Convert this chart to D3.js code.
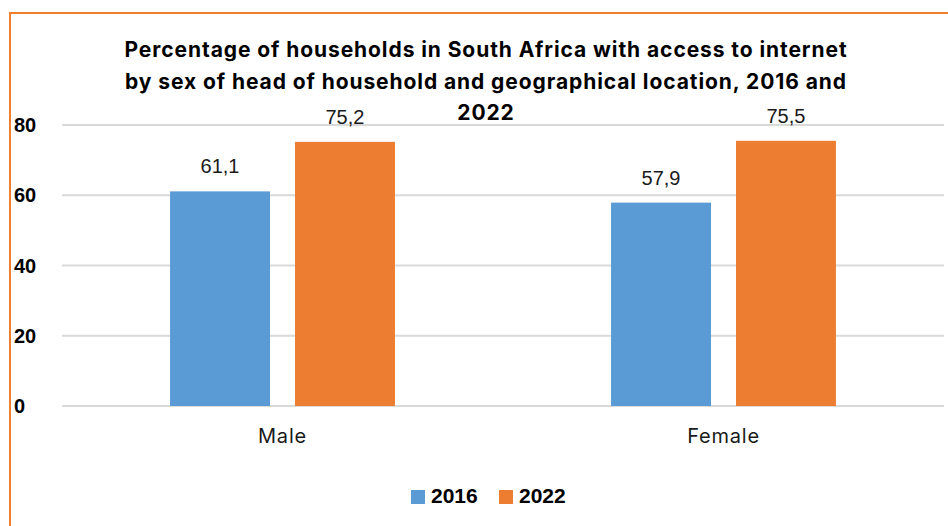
<!DOCTYPE html>
<html>
<head>
<meta charset="utf-8">
<script src="https://cdn.jsdelivr.net/npm/d3@7"></script>
<style>
  html, body { margin: 0; padding: 0; background: #fff; }
  svg { display: block; }
</style>
</head>
<body>
<svg id="chart" width="948" height="526"></svg>
<script>
// Data
const categories = ["Male", "Female"];
const seriesNames = ["2016", "2022"];
const values2016 = [61.1, 57.9];
const values2022 = [75.2, 75.5];
const valueLabels2016 = ["61,1", "57,9"];
const valueLabels2022 = ["75,2", "75,5"];
const yTicks = [0, 20, 40, 60, 80];
const titleLines = [
  "Percentage of households in South Africa with access to internet",
  "by sex of head of household and geographical location, 2016 and",
  "2022"
];
const colors = ["#5B9BD5", "#ED7D31"];

const series = [
  { name: seriesNames[0], values: values2016, labels: valueLabels2016, color: colors[0] },
  { name: seriesNames[1], values: values2022, labels: valueLabels2022, color: colors[1] }
];

const svg = d3.select("#chart");
const W = 948, H = 526;

// Chart frame (only top and left edges fall inside the view)
svg.append("path")
  .attr("d", `M10,${H} L10,13 L${W},13`)
  .attr("fill", "none")
  .attr("stroke", "#F07F2F")
  .attr("stroke-width", 2);

const plot = { left: 62, right: 944, top: 125, bottom: 406 };

const y = d3.scaleLinear().domain([0, 80]).range([plot.bottom, plot.top]);
const x0 = d3.scaleBand().domain(categories).range([plot.left, plot.right])
  .paddingInner(0.49).paddingOuter(0.245);
const x1 = d3.scaleBand().domain(seriesNames).range([0, x0.bandwidth()])
  .paddingInner(0.2).paddingOuter(0);

// Gridlines
svg.append("g")
  .selectAll("line")
  .data(yTicks)
  .join("line")
  .attr("x1", plot.left).attr("x2", plot.right)
  .attr("y1", d => y(d)).attr("y2", d => y(d))
  .attr("stroke", "#D9D9D9")
  .attr("stroke-width", 2);

// Y tick labels
svg.append("g")
  .selectAll("text")
  .data(yTicks)
  .join("text")
  .attr("x", 14)
  .attr("y", d => y(d) + 7)
  .attr("font-family", "Liberation Sans, Arial, sans-serif")
  .attr("font-weight", "bold")
  .attr("font-size", 20)
  .attr("fill", "#000")
  .text(d => d);

// Bars
const groups = svg.append("g")
  .selectAll("g")
  .data(series)
  .join("g")
  .attr("fill", d => d.color);

groups.selectAll("rect")
  .data(s => categories.map((c, i) => ({ cat: c, v: s.values[i], name: s.name })))
  .join("rect")
  .attr("x", d => x0(d.cat) + x1(d.name))
  .attr("y", d => y(d.v))
  .attr("width", x1.bandwidth())
  .attr("height", d => y(0) - y(d.v));

// Value labels
const labelG = svg.append("g")
  .attr("font-family", "Liberation Sans, Arial, sans-serif")
  .attr("font-size", 20)
  .attr("fill", "#1a1a1a")
  .attr("text-anchor", "middle");
series.forEach(s => {
  categories.forEach((c, i) => {
    labelG.append("text")
      .attr("x", x0(c) + x1(s.name) + x1.bandwidth() / 2)
      .attr("y", y(s.values[i]) - 18)
      .text(s.labels[i]);
  });
});

// Category labels
svg.append("g")
  .selectAll("text")
  .data(categories)
  .join("text")
  .attr("x", d => x0(d) + x0.bandwidth() / 2)
  .attr("y", 443)
  .attr("text-anchor", "middle")
  .attr("font-family", "Inter, Liberation Sans, sans-serif")
  .attr("font-size", 20)
  .attr("letter-spacing", 0.8)
  .attr("fill", "#1a1a1a")
  .text(d => d);

// Title: spread letters so the first line spans the full title width
const titleWidth = 723;
const title = svg.append("g")
  .attr("font-family", "Inter, Liberation Sans, sans-serif")
  .attr("font-weight", "bold")
  .attr("font-size", 21)
  .attr("fill", "#000")
  .attr("text-anchor", "middle");
const titleTexts = titleLines.map((t, i) =>
  title.append("text")
    .attr("x", 486)
    .attr("y", 57 + i * 31.5)
    .text(t));
const natural = titleTexts[0].node().getComputedTextLength();
const spacing = (titleWidth - natural) / titleLines[0].length;
titleTexts.forEach(t => t.attr("letter-spacing", spacing));

// Legend
const legend = svg.append("g");
const legendX = [411, 499];
series.forEach((s, i) => {
  legend.append("rect")
    .attr("x", legendX[i]).attr("y", 490)
    .attr("width", 14).attr("height", 14)
    .attr("fill", s.color);
  legend.append("text")
    .attr("x", legendX[i] + 20).attr("y", 503)
    .attr("font-family", "Liberation Sans, Arial, sans-serif")
    .attr("font-weight", "bold")
    .attr("font-size", 21)
    .attr("fill", "#000")
    .text(s.name);
});
</script>
</body>
</html>
